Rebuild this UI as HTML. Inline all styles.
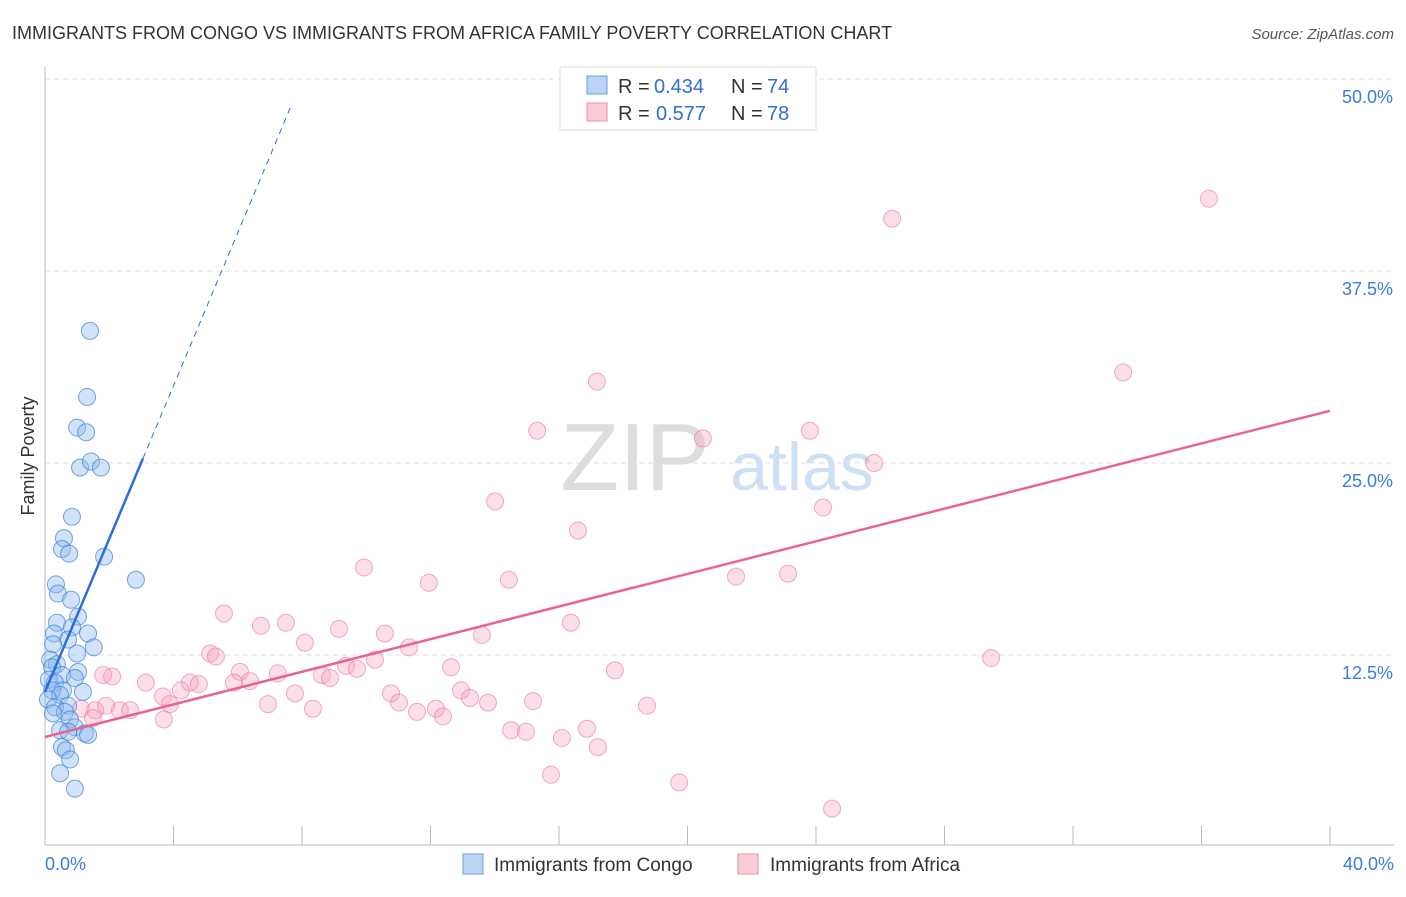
<!DOCTYPE html>
<html><head><meta charset="utf-8"><style>
body{margin:0;background:#fff;font-family:"Liberation Sans",sans-serif;}
svg text{font-family:"Liberation Sans",sans-serif;}
</style></head><body>
<svg id="chart" width="1406" height="892" xmlns="http://www.w3.org/2000/svg">
<text x="12" y="39" font-size="18" fill="#333">IMMIGRANTS FROM CONGO VS IMMIGRANTS FROM AFRICA FAMILY POVERTY CORRELATION CHART</text>
<text x="1394" y="39" font-size="15" fill="#555" text-anchor="end" font-style="italic">Source: ZipAtlas.com</text>
<text x="0" y="0" transform="translate(34,456) rotate(-90)" font-size="18" fill="#333" text-anchor="middle">Family Poverty</text>
<g id="grid"></g>
<g><text x="635" y="490" font-size="96" fill="#ddd" font-family="Liberation Serif" text-anchor="middle">ZIP</text><text x="802" y="490" font-size="68" fill="#cfe0f5" text-anchor="middle">atlas</text></g>
<g id="marks"></g>
<g>
<rect x="560" y="67" width="256" height="63" fill="#fff" stroke="#ddd"/>
<rect x="587" y="76" width="20" height="18" fill="#b9d3f5" stroke="#6d9de0"/>
<text x="618" y="93" font-size="20" fill="#333">R =</text><text x="654" y="93" font-size="20" fill="#2f6fd6">0.434</text>
<text x="731" y="93" font-size="20" fill="#333">N =</text><text x="767" y="93" font-size="20" fill="#2f6fd6">74</text>
<rect x="587" y="103" width="20" height="18" fill="#fbcbd8" stroke="#ec90ab"/>
<text x="618" y="120" font-size="20" fill="#333">R =</text><text x="656" y="120" font-size="20" fill="#2f6fd6">0.577</text>
<text x="731" y="120" font-size="20" fill="#333">N =</text><text x="767" y="120" font-size="20" fill="#2f6fd6">78</text>
</g>
<g>
<rect x="463" y="854" width="20" height="20" fill="#b9d3f5" stroke="#6d9de0"/>
<text x="494" y="871" font-size="19" fill="#333">Immigrants from Congo</text>
<rect x="738" y="854" width="20" height="20" fill="#fbcbd8" stroke="#ec90ab"/>
<text x="770" y="871" font-size="19" fill="#333">Immigrants from Africa</text>
</g>
</svg>
<script>
const yTicks=[12.5,25,37.5,50];
const yTickLabels=["12.5%","25.0%","37.5%","50.0%"];
const xTickLabels=["0.0%","40.0%"];
const congoX=[1.40,1.31,1.00,1.28,1.09,1.43,1.74,0.84,0.59,0.53,0.75,1.84,2.83,0.34,0.40,0.81,1.03,0.37,0.84,0.28,1.34,0.72,1.52,0.25,1.00,0.16,0.37,0.22,1.03,0.53,0.93,0.12,0.31,0.56,1.18,0.22,0.47,0.09,0.72,0.31,0.62,0.25,0.78,0.93,0.47,1.24,1.34,0.72,0.53,0.65,0.78,0.47,0.93];
const congoY=[33.6,29.3,27.3,27.0,24.7,25.1,24.7,21.5,20.1,19.4,19.1,18.9,17.4,17.1,16.5,16.1,15.0,14.6,14.3,13.9,13.9,13.5,13.0,13.2,12.6,12.2,11.9,11.7,11.4,11.2,11.0,10.9,10.7,10.2,10.1,10.2,9.9,9.6,9.2,9.1,8.8,8.7,8.3,7.8,7.6,7.4,7.3,7.5,6.5,6.3,5.7,4.8,3.8];
const africaX=[36.23,26.37,17.18,33.56,15.32,20.48,23.81,25.81,14.01,24.22,16.59,9.93,11.95,14.44,21.51,23.13,5.57,7.50,6.72,16.37,9.15,10.58,8.09,13.60,11.33,5.14,5.32,10.27,9.37,29.45,12.64,17.74,6.07,7.25,8.62,9.71,1.81,2.09,8.87,4.51,4.79,3.14,5.88,6.38,4.23,12.95,7.78,10.77,13.23,3.67,15.19,13.79,3.89,11.02,6.94,18.74,12.17,8.34,2.33,2.65,1.12,1.56,1.90,11.58,12.39,1.49,3.70,14.51,14.97,16.87,16.09,17.21,15.75,19.74,24.50];
const africaY=[42.2,40.9,30.3,30.9,27.1,26.6,27.1,25.0,22.5,22.1,20.6,18.2,17.2,17.4,17.6,17.8,15.2,14.6,14.4,14.6,14.2,13.9,13.3,13.8,13.0,12.6,12.4,12.2,11.8,12.3,11.7,11.5,11.4,11.3,11.2,11.6,11.2,11.1,11.0,10.7,10.6,10.7,10.7,10.8,10.2,10.2,10.0,10.0,9.7,9.8,9.5,9.4,9.3,9.4,9.3,9.2,9.0,9.0,8.9,8.9,9.0,8.9,9.2,8.8,8.5,8.4,8.3,7.6,7.5,7.7,7.1,6.5,4.7,4.2,2.5];
const congoTrend=[0,10.1,3.05,25.3,7.69,48.4];
const africaTrend=[0,7.16,40,28.4];
const NS="http://www.w3.org/2000/svg";
const xs=v=>45+v/40*1285, ys=v=>847-v/50*768;
function mk(tag,attrs,parent){const e=document.createElementNS(NS,tag);for(const k in attrs)e.setAttribute(k,attrs[k]);parent.appendChild(e);return e;}
const grid=document.getElementById('grid'), marks=document.getElementById('marks');
yTicks.forEach((t,i)=>{
 const l=mk('line',{x1:45,x2:1394,y1:ys(t),y2:ys(t),stroke:'#ddd','stroke-dasharray':'5,4'},grid);
 
 
 const tx=mk('text',{x:1393,y:ys(t)+24,'font-size':18,fill:'#3b7ddd','text-anchor':'end'},grid);
 tx.textContent=yTickLabels[i];
 
 
});
const ax=mk('line',{x1:45,x2:45,y1:67,y2:845,stroke:'#bbb'},grid);


const bx=mk('line',{x1:45,x2:1394,y1:845,y2:845,stroke:'#bbb'},grid);


for(let i=0;i<=10;i++){const t=mk('line',{x1:xs(i*4),x2:xs(i*4),y1:826,y2:845,stroke:'#bbb'},grid);
 
 }
[[0,'start',45],[1,'end',1394]].forEach(([i,a,x])=>{const t=mk('text',{x:x,y:870,'font-size':18,fill:'#3b7ddd','text-anchor':a},grid);t.textContent=xTickLabels[i];
 
 });
africaX.forEach((x,i)=>{const c=mk('circle',{cx:xs(x),cy:ys(africaY[i]),r:8.5,fill:'rgba(246,160,185,0.35)',stroke:'rgba(232,120,155,0.6)','stroke-width':1},marks);
 
 });
congoX.forEach((x,i)=>{const c=mk('circle',{cx:xs(x),cy:ys(congoY[i]),r:8.5,fill:'rgba(140,185,240,0.4)',stroke:'rgba(60,130,220,0.7)','stroke-width':1},marks);
 
 });
const a1=mk('line',{x1:xs(africaTrend[0]),y1:ys(africaTrend[1]),x2:xs(africaTrend[2]),y2:ys(africaTrend[3]),stroke:'#e8648f','stroke-width':2.5},marks);


const c1=mk('line',{x1:xs(congoTrend[0]),y1:ys(congoTrend[1]),x2:xs(congoTrend[2]),y2:ys(congoTrend[3]),stroke:'#2a6fd8','stroke-width':2.5},marks);


const c2=mk('line',{x1:xs(congoTrend[2]),y1:ys(congoTrend[3]),x2:xs(congoTrend[4]),y2:ys(congoTrend[5]),stroke:'#2a6fd8','stroke-width':1,'stroke-dasharray':'6,5'},marks);


</script>
</body></html>
